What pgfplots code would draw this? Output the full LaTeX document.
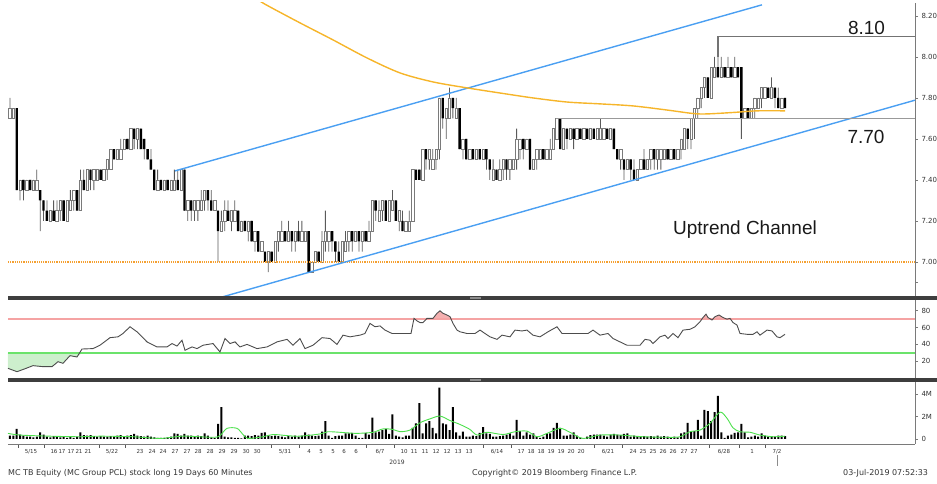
\documentclass[border=0pt]{standalone}
\usepackage{fontspec}
\setmainfont{Liberation Sans}
\newfontfamily\tah{DejaVu Sans}
\usepackage{pgfplots}
\usepackage{pgfplotstable}
\pgfplotsset{compat=1.18}
\definecolor{chanblue}{HTML}{4A9FF2}
\definecolor{maorange}{HTML}{F6B52A}
\definecolor{dotorange}{HTML}{F5A030}
\definecolor{upgray}{HTML}{7A7A7A}
\definecolor{wickgray}{HTML}{5A5A5A}
\definecolor{sepgray}{HTML}{3E3E3E}
\definecolor{axgray}{HTML}{7A7A7A}
\definecolor{rsired}{HTML}{F5A3A3}
\definecolor{rsigreen}{HTML}{6BE36B}
\definecolor{redfill}{HTML}{F4B0B0}
\definecolor{greenfill}{HTML}{CDEFCD}
\definecolor{vmagreen}{HTML}{4CE04C}

\pgfplotstableread{
i o h l c v
0 7.70 7.80 7.70 7.75 0.30
1 7.70 7.75 7.70 7.75 0.30
2 7.75 7.75 7.35 7.35 0.90
3 7.35 7.40 7.30 7.40 0.40
4 7.40 7.40 7.30 7.35 0.30
5 7.35 7.40 7.35 7.40 0.20
6 7.40 7.40 7.35 7.35 0.20
7 7.35 7.40 7.35 7.40 0.15
8 7.35 7.45 7.35 7.40 0.20
9 7.35 7.35 7.15 7.30 0.60
10 7.30 7.30 7.20 7.25 0.40
11 7.25 7.30 7.20 7.20 0.20
12 7.20 7.25 7.20 7.25 0.15
13 7.25 7.30 7.20 7.20 0.25
14 7.20 7.30 7.20 7.25 0.20
15 7.25 7.30 7.20 7.30 0.15
16 7.30 7.30 7.20 7.20 0.25
17 7.20 7.30 7.20 7.30 0.10
18 7.25 7.35 7.25 7.30 0.20
19 7.30 7.35 7.25 7.35 0.10
20 7.35 7.35 7.25 7.25 0.20
21 7.25 7.45 7.25 7.40 0.60
22 7.40 7.45 7.35 7.35 0.35
23 7.35 7.45 7.35 7.45 0.30
24 7.45 7.45 7.35 7.40 0.35
25 7.40 7.45 7.35 7.45 0.25
26 7.40 7.45 7.40 7.45 0.20
27 7.45 7.45 7.40 7.40 0.25
28 7.40 7.45 7.40 7.45 0.20
29 7.45 7.50 7.40 7.50 0.20
30 7.45 7.55 7.45 7.55 0.25
31 7.55 7.55 7.50 7.50 0.20
32 7.50 7.55 7.50 7.55 0.30
33 7.50 7.60 7.50 7.55 0.35
34 7.55 7.60 7.55 7.60 0.25
35 7.60 7.60 7.55 7.55 0.30
36 7.55 7.65 7.55 7.65 0.35
37 7.65 7.65 7.55 7.60 0.45
38 7.60 7.65 7.55 7.65 0.30
39 7.65 7.65 7.55 7.55 0.25
40 7.60 7.60 7.50 7.55 0.20
41 7.55 7.55 7.50 7.50 0.30
42 7.50 7.55 7.45 7.45 0.20
43 7.45 7.45 7.35 7.35 0.15
44 7.35 7.45 7.35 7.40 0.10
45 7.40 7.40 7.35 7.35 0.10
46 7.35 7.40 7.35 7.40 0.10
47 7.40 7.40 7.35 7.35 0.15
48 7.35 7.40 7.35 7.40 0.20
49 7.35 7.45 7.35 7.40 0.50
50 7.40 7.45 7.35 7.35 0.45
51 7.35 7.45 7.35 7.45 0.30
52 7.45 7.45 7.25 7.25 0.45
53 7.25 7.30 7.20 7.30 0.30
54 7.30 7.30 7.20 7.25 0.30
55 7.25 7.30 7.20 7.30 0.25
56 7.25 7.30 7.20 7.30 0.30
57 7.25 7.35 7.25 7.30 0.25
58 7.30 7.35 7.25 7.35 0.50
59 7.35 7.35 7.25 7.30 0.30
60 7.30 7.35 7.25 7.25 0.15
61 7.25 7.30 7.25 7.30 0.10
62 7.25 7.25 7.00 7.15 1.35
63 7.15 7.25 7.15 7.20 2.85
64 7.20 7.30 7.15 7.25 0.20
65 7.25 7.30 7.20 7.20 0.15
66 7.20 7.25 7.15 7.25 0.15
67 7.20 7.30 7.20 7.25 0.10
68 7.25 7.25 7.15 7.15 0.10
69 7.15 7.20 7.15 7.20 0.05
70 7.20 7.20 7.15 7.15 0.30
71 7.15 7.20 7.10 7.20 0.30
72 7.20 7.20 7.10 7.10 0.25
73 7.10 7.15 7.05 7.15 0.35
74 7.15 7.15 7.05 7.05 0.30
75 7.05 7.10 7.05 7.10 0.55
76 7.05 7.05 7.00 7.00 0.60
77 7.00 7.05 6.95 7.05 0.35
78 7.05 7.05 7.00 7.00 0.25
79 7.00 7.10 7.00 7.10 0.30
80 7.10 7.15 7.05 7.15 0.25
81 7.10 7.20 7.10 7.15 0.20
82 7.15 7.15 7.10 7.10 0.15
83 7.10 7.20 7.10 7.15 0.25
84 7.15 7.15 7.05 7.10 0.20
85 7.10 7.15 7.05 7.15 0.30
86 7.15 7.20 7.10 7.10 0.20
87 7.10 7.20 7.10 7.15 0.30
88 7.10 7.15 7.10 7.15 0.60
89 7.15 7.15 6.95 6.95 0.40
90 6.95 7.00 6.95 7.00 0.30
91 7.00 7.05 7.00 7.05 0.25
92 7.05 7.05 7.00 7.00 0.30
93 7.00 7.15 7.00 7.10 0.65
94 7.10 7.25 7.05 7.15 1.60
95 7.10 7.15 7.05 7.15 0.30
96 7.15 7.15 7.05 7.10 0.10
97 7.10 7.10 7.00 7.05 0.25
98 7.05 7.10 7.00 7.00 0.30
99 7.00 7.10 7.00 7.10 0.30
100 7.05 7.15 7.05 7.10 0.50
101 7.10 7.15 7.05 7.15 0.50
102 7.15 7.15 7.05 7.10 0.55
103 7.10 7.15 7.10 7.15 0.30
104 7.15 7.15 7.05 7.10 0.10
105 7.10 7.15 7.05 7.15 0.10
106 7.15 7.15 7.10 7.10 0.55
107 7.10 7.20 7.10 7.15 0.40
108 7.15 7.30 7.15 7.30 1.90
109 7.30 7.30 7.20 7.25 0.60
110 7.20 7.30 7.20 7.25 0.65
111 7.25 7.30 7.20 7.30 0.80
112 7.30 7.30 7.20 7.20 0.90
113 7.20 7.30 7.20 7.30 0.45
114 7.25 7.35 7.25 7.30 2.20
115 7.30 7.30 7.20 7.20 0.30
116 7.20 7.25 7.15 7.25 0.20
117 7.20 7.25 7.15 7.15 0.15
118 7.15 7.20 7.15 7.20 0.30
119 7.15 7.25 7.15 7.20 0.30
120 7.20 7.45 7.20 7.45 1.00
121 7.45 7.45 7.40 7.40 1.40
122 7.45 7.45 7.40 7.40 3.20
123 7.40 7.55 7.40 7.55 0.50
124 7.55 7.55 7.45 7.50 1.40
125 7.50 7.55 7.45 7.55 1.60
126 7.45 7.55 7.45 7.50 1.00
127 7.50 7.55 7.45 7.55 0.50
128 7.55 7.80 7.50 7.80 4.60
129 7.80 7.80 7.65 7.70 1.40
130 7.70 7.75 7.60 7.75 1.30
131 7.70 7.85 7.70 7.80 0.80
132 7.80 7.80 7.70 7.75 2.85
133 7.70 7.80 7.70 7.75 0.60
134 7.75 7.75 7.55 7.55 0.30
135 7.55 7.60 7.50 7.60 0.65
136 7.60 7.60 7.50 7.50 0.20
137 7.50 7.55 7.50 7.55 0.20
138 7.55 7.55 7.50 7.50 0.30
139 7.50 7.55 7.50 7.55 0.25
140 7.55 7.55 7.50 7.50 0.55
141 7.50 7.55 7.50 7.55 1.05
142 7.55 7.55 7.45 7.50 0.50
143 7.50 7.50 7.40 7.45 0.45
144 7.40 7.50 7.40 7.45 0.20
145 7.45 7.45 7.40 7.40 0.20
146 7.40 7.50 7.40 7.45 0.25
147 7.45 7.50 7.40 7.50 0.30
148 7.50 7.50 7.40 7.45 0.40
149 7.45 7.50 7.40 7.50 0.50
150 7.45 7.50 7.45 7.50 0.30
151 7.50 7.65 7.45 7.60 1.70
152 7.55 7.60 7.50 7.60 0.70
153 7.60 7.60 7.50 7.55 0.30
154 7.55 7.60 7.55 7.60 0.60
155 7.60 7.60 7.45 7.45 0.40
156 7.45 7.50 7.45 7.50 0.50
157 7.50 7.55 7.45 7.55 0.20
158 7.50 7.55 7.50 7.55 0.10
159 7.55 7.55 7.50 7.50 0.20
160 7.50 7.55 7.50 7.55 0.50
161 7.50 7.60 7.50 7.55 0.50
162 7.55 7.65 7.55 7.65 1.00
163 7.60 7.70 7.60 7.70 1.45
164 7.70 7.70 7.55 7.55 1.00
165 7.55 7.65 7.55 7.65 0.30
166 7.65 7.65 7.55 7.60 0.30
167 7.60 7.65 7.60 7.65 0.40
168 7.65 7.65 7.55 7.60 0.60
169 7.60 7.65 7.60 7.65 0.30
170 7.65 7.65 7.60 7.60 0.10
171 7.60 7.65 7.60 7.65 0.05
172 7.65 7.65 7.60 7.60 0.20
173 7.60 7.65 7.60 7.65 0.35
174 7.65 7.65 7.60 7.60 0.40
175 7.60 7.65 7.60 7.65 0.40
176 7.60 7.70 7.60 7.65 0.40
177 7.60 7.65 7.60 7.65 0.30
178 7.65 7.65 7.60 7.60 0.20
179 7.60 7.65 7.60 7.65 0.40
180 7.65 7.65 7.55 7.55 0.45
181 7.55 7.55 7.50 7.50 0.40
182 7.50 7.55 7.45 7.55 0.35
183 7.50 7.50 7.40 7.45 0.45
184 7.45 7.50 7.45 7.50 0.50
185 7.50 7.50 7.40 7.45 0.20
186 7.45 7.50 7.40 7.40 0.30
187 7.40 7.45 7.40 7.45 0.25
188 7.45 7.50 7.45 7.50 0.20
189 7.50 7.55 7.45 7.45 0.25
190 7.45 7.50 7.45 7.50 0.20
191 7.50 7.55 7.45 7.55 0.25
192 7.55 7.55 7.45 7.50 0.20
193 7.50 7.55 7.45 7.55 0.30
194 7.50 7.55 7.45 7.55 0.20
195 7.50 7.55 7.50 7.55 0.25
196 7.55 7.55 7.50 7.50 0.20
197 7.50 7.55 7.50 7.55 0.15
198 7.55 7.55 7.50 7.50 0.20
199 7.50 7.55 7.50 7.55 0.15
200 7.55 7.60 7.50 7.60 0.50
201 7.55 7.65 7.55 7.65 0.60
202 7.65 7.65 7.55 7.60 1.45
203 7.60 7.70 7.55 7.70 0.70
204 7.70 7.75 7.60 7.75 0.70
205 7.75 7.80 7.70 7.80 1.70
206 7.80 7.85 7.75 7.85 0.30
207 7.85 7.90 7.80 7.90 2.60
208 7.90 7.90 7.80 7.80 2.50
209 7.80 7.95 7.80 7.95 1.60
210 7.90 8.00 7.90 7.95 2.40
211 7.95 8.00 7.90 7.90 3.85
212 7.90 8.00 7.90 7.95 0.60
213 7.95 7.95 7.90 7.90 0.10
214 7.90 8.00 7.90 7.95 0.30
215 7.95 7.95 7.90 7.90 0.40
216 7.90 8.00 7.90 7.95 0.55
217 7.95 7.95 7.90 7.90 0.60
218 7.95 7.95 7.60 7.70 1.35
219 7.70 7.75 7.70 7.75 0.60
220 7.75 7.75 7.70 7.70 0.15
221 7.70 7.75 7.70 7.75 0.20
222 7.75 7.80 7.70 7.80 0.30
223 7.75 7.80 7.75 7.80 0.20
224 7.80 7.85 7.75 7.85 0.50
225 7.80 7.85 7.80 7.85 0.30
226 7.85 7.85 7.80 7.80 0.20
227 7.80 7.90 7.80 7.85 0.25
228 7.85 7.85 7.75 7.80 0.20
229 7.80 7.85 7.75 7.75 0.30
230 7.75 7.80 7.75 7.80 0.30
231 7.80 7.80 7.75 7.75 0.25
}\bars

\pgfplotstableread{
x r
8 11.5
17 7.5
25 11
33 14.7
43 13.5
52 13.5
58 19.4
63 17.5
70 26.6
77 25
82 34.5
93 35
100 39
110 48
118 49
123 53
130 61
137 55
147 43
157 37
167 37
172 41
177 38
182 45
185 33
192 37
197 35
203 39
213 41
220 31
225 47
230 41
235 43
240 37
247 40
257 35
267 37
277 43
287 46
293 39
300 47
305 35
313 39
322 48
330 47
337 40
343 51
350 49
360 51
365 53
370 65
375 61
380 62
385 57
392 53
400 53
411 53
414 71
417 68
420 66
423 66
427 71
433 71
437 77
440 80
443 77
447 75
450 73
453 65
457 57
460 55
467 53
475 53
480 57
485 53
490 49
497 46
502 51
510 49
515 57
522 56
527 57
533 51
540 49
548 55
557 61
562 53
570 53
588 53
593 57
600 51
608 53
613 47
620 43
627 39
640 39
645 46
650 45
653 41
660 49
665 51
668 47
673 53
678 48
683 57
690 58
695 61
700 67
703 72
706 76
708 72
712 69
715 73
719 75
723 72
727 70
730 71
733 66
737 63
740 53
747 52
753 52
757 55
760 51
767 57
772 56
777 49
780 48
785 52
}\rsi

\pgfplotstableread{
x m
8 0.5
20 0.35
50 0.25
80 0.2
100 0.25
133 0.2
160 0.05
183 0.25
213 0.15
220 0.3
227 0.95
237 0.95
243 0.4
248 0.05
263 0.2
273 0.4
287 0.3
300 0.25
320 0.45
328 0.65
347 0.55
357 0.5
373 0.6
383 0.9
393 0.85
400 0.65
410 0.8
420 1.45
430 1.8
440 2.05
450 1.65
460 1.3
470 0.85
477 0.35
487 0.6
503 0.4
515 0.65
527 0.7
537 0.2
547 0.5
560 0.95
570 0.6
583 0.05
600 0.35
620 0.35
643 0.2
667 0.15
680 0.2
690 0.65
700 0.8
710 1.4
720 2.4
727 1.85
733 1.0
740 0.65
750 0.6
760 0.35
773 0.2
785 0.25
}\vma

\pgfplotstableread{
x p
258 8.278
268 8.249
300 8.166
333 8.083
367 7.995
400 7.922
433 7.878
467 7.849
500 7.824
533 7.800
567 7.780
600 7.771
633 7.761
667 7.741
693 7.724
707 7.722
733 7.729
757 7.737
785 7.737
}\pma

\pgfplotsset{
  panel/.style={scale only axis, width=907pt, anchor=south west,
    axis x line=none, axis y line*=right,
    axis line style={-, draw=axgray, line width=0.8pt},
    tick align=outside, major tick length=3pt,
    ytick style={draw=axgray, line width=0.6pt},
    yticklabel style={font=\tah\fontsize{7}{8}\selectfont, text=black!80}},
  ovl/.style={scale only axis, width=907pt, anchor=south west, xmin=8, xmax=915},
}

\begin{document}
\begin{tikzpicture}[x=1pt,y=1pt]
\useasboundingbox (0,0) rectangle (937,484);

% ---------- price wicks + axis ----------
\begin{axis}[panel, at={(8pt,188pt)}, height=293pt,
  xmin=-0.596, xmax=269.75, ymin=6.834, ymax=8.263,
  ytick={6.9,7,7.2,7.4,7.6,7.8,8,8.2},
  yticklabels={,7.00,7.20,7.40,7.60,7.80,8.00,8.20},
  ybar stacked, bar width=0.8pt]
\addplot[draw=none, fill=none] table[x=i, y=l] {\bars};
\addplot[fill=wickgray, draw=none] table[x=i, y expr={\thisrow{h}-\thisrow{l}}] {\bars};
\end{axis}

% ---------- candle bodies ----------
\begin{axis}[ovl, at={(8pt,188pt)}, height=293pt,
  xmin=-0.596, xmax=269.75, ymin=6.834, ymax=8.263, hide axis,
  ybar stacked, bar width=2.4pt]
\addplot[draw=none, fill=none] table[x=i, y expr={min(\thisrow{o},\thisrow{c})}] {\bars};
\addplot[fill=white, draw=upgray, line width=0.6pt] table[x=i, y expr={\thisrow{c}>\thisrow{o} ? \thisrow{c}-\thisrow{o} : 0}] {\bars};
\addplot[fill=black, draw=none] table[x=i, y expr={\thisrow{c}<\thisrow{o} ? \thisrow{o}-\thisrow{c} : 0}] {\bars};
\end{axis}

% ---------- price overlays ----------
\begin{axis}[ovl, at={(8pt,188pt)}, height=293pt, ymin=6.834, ymax=8.263, hide axis]
\addplot[dotorange, line width=1.2pt, dash pattern=on 1.2pt off 1pt] coordinates {(8,7.0) (915,7.0)};
\addplot[chanblue, line width=1.4pt] coordinates {(175,7.444) (762,8.254)};
\addplot[chanblue, line width=1.4pt] coordinates {(222,6.829) (915,7.789)};
\addplot[black!40, line width=1.5pt] coordinates {(556,7.70) (915,7.70)};
\addplot[black!55, line width=1.4pt] coordinates {(718,8.00) (718,8.10) (915,8.10)};
\addplot[maorange, line width=1.4pt, smooth] table[x=x, y=p] {\pma};
\node[anchor=base, font=\fontsize{19}{22}\selectfont, text=black!90] at (axis cs:866.5,8.107) {8.10};
\node[anchor=base, font=\fontsize{19}{22}\selectfont, text=black!90] at (axis cs:866,7.576) {7.70};
\node[anchor=base, font=\fontsize{19}{22}\selectfont, text=black!90] at (axis cs:745,7.132) {Uptrend Channel};
\end{axis}

% ---------- RSI ----------
\begin{axis}[panel, at={(8pt,106pt)}, height=78pt,
  xmin=8, xmax=915, ymin=0, ymax=92.86,
  ytick={0,20,40,60,80}, yticklabels={,20,40,60,80}]
\addplot[fill=redfill, draw=none, forget plot] table[x=x, y expr={max(\thisrow{r},70)}] {\rsi} -- (axis cs:8,70) -- cycle;
\addplot[fill=greenfill, draw=none, forget plot] table[x=x, y expr={min(\thisrow{r},30)}] {\rsi} -- (axis cs:785,30) -- (axis cs:8,30) -- cycle;
\addplot[rsired, line width=1.6pt] coordinates {(8,70) (915,70)};
\addplot[rsigreen, line width=1.6pt] coordinates {(8,30) (915,30)};
\addplot[black!70, line width=0.9pt] table[x=x, y=r] {\rsi};
\end{axis}

% ---------- volume bars ----------
\begin{axis}[panel, at={(8pt,40pt)}, height=62pt,
  xmin=-0.596, xmax=269.75, ymin=-0.45, ymax=5.10,
  ytick={0,2,4}, yticklabels={0,2M,4M}]
\addplot[ybar, bar width=2pt, fill=black, draw=none] table[x=i, y=v] {\bars};
\end{axis}

% ---------- volume MA + date axis ----------
\begin{axis}[ovl, at={(8pt,40pt)}, height=62pt, ymin=-0.45, ymax=5.10,
  axis y line=none, axis x line*=bottom,
  axis line style={-, draw=axgray, line width=0.8pt},
  tick align=outside, major tick length=0pt, minor tick length=4pt,
  minor x tick style={draw=black!65, line width=0.6pt},
  xtick={31,54,62,71,79,88,112,140,152,163,175,187,198,210,222,234,246,257,285,309,321,333,344,356,380,404,414,425,436,447,458,469,497,521,531,541,551,561,571,581,608,633,643,653,663,673,684,694,724,752,777},
  xticklabels={5/15,16,17,17,21,21,5/22,23,24,24,27,27,28,28,29,29,30,30,5/31,4,5,5,6,6,6/7,10,11,11,12,12,13,13,6/14,17,18,18,19,19,20,20,6/21,24,25,25,26,26,27,27,6/28,1,7/2},
  minor xtick={18,44,99,125,271,299,366,394,483,511,594,622,709,739,765},
  xticklabel style={font=\tah\fontsize{5.5}{6.5}\selectfont, text=black!80, yshift=-2pt}]
\addplot[vmagreen, line width=0.9pt, smooth] table[x=x, y=m] {\vma};
\end{axis}

% separators and decorations
\fill[sepgray] (8,184) rectangle (937,188);
\fill[sepgray] (8,102) rectangle (937,106);
\fill[black!45] (470,184.8) rectangle (481,187.2);
\fill[black!45] (470,102.8) rectangle (481,105.2);
\draw[black!45, line width=0.8pt] (777,29) -- (777,18);

\node[anchor=base, font=\tah\fontsize{6}{7}\selectfont, text=black!80, inner sep=0] at (397,19) {2019};
\node[anchor=base west, font=\tah\fontsize{8}{9}\selectfont, text=black!80, inner sep=0] at (8,8) {MC TB Equity (MC Group PCL) stock long 19 Days 60 Minutes};
\node[anchor=base west, font=\tah\fontsize{8}{9}\selectfont, text=black!80, inner sep=0] at (472,8) {Copyright© 2019 Bloomberg Finance L.P.};
\node[anchor=base west, font=\tah\fontsize{8}{9}\selectfont, text=black!80, inner sep=0] at (843,8) {03-Jul-2019 07:52:33};
\end{tikzpicture}
\end{document}
